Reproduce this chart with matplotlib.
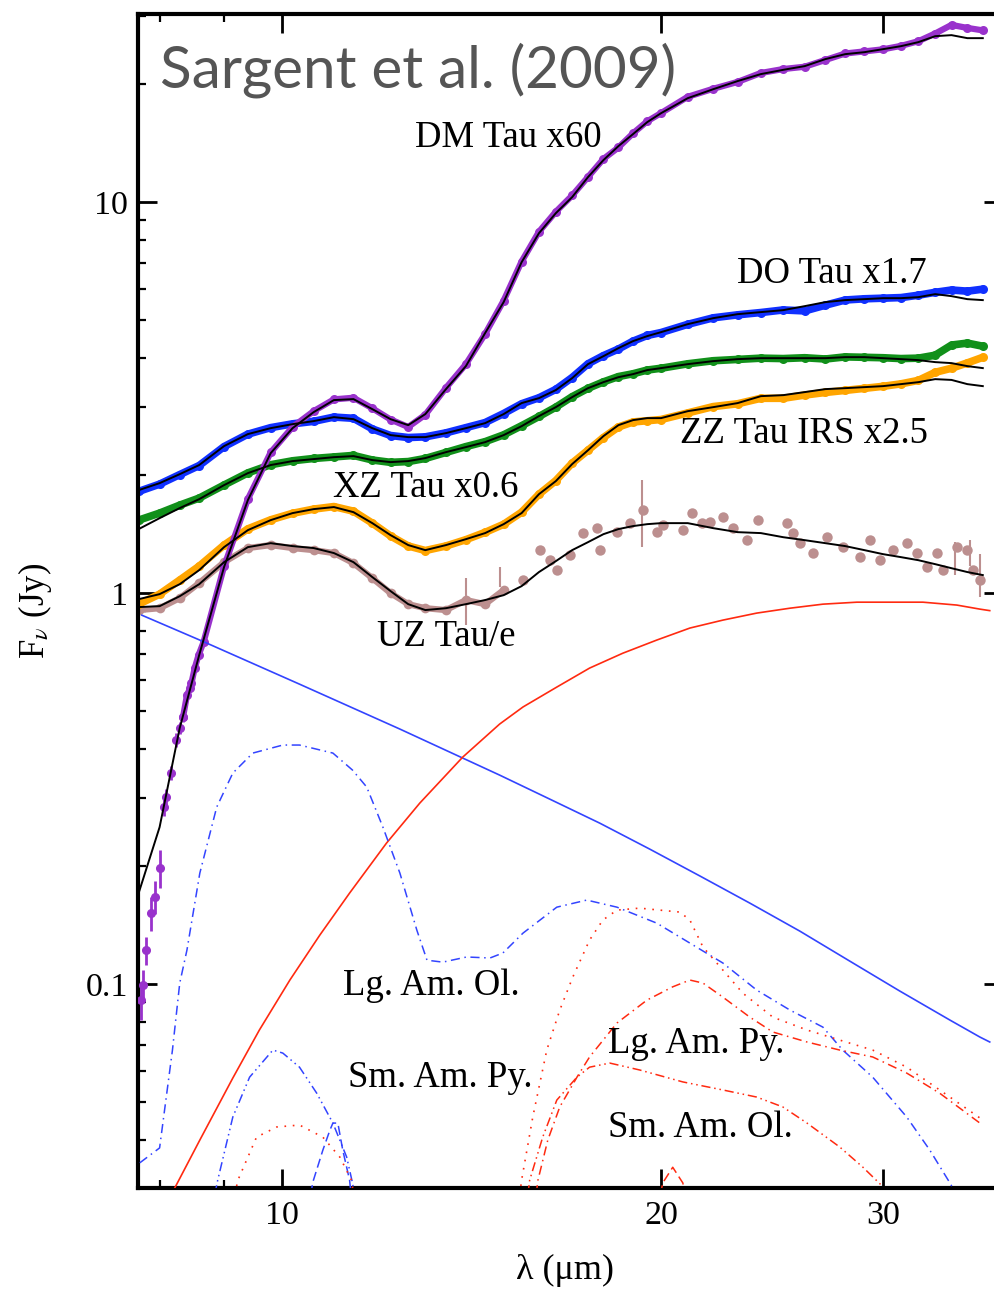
import matplotlib
matplotlib.use("Agg")
import matplotlib.pyplot as plt
from matplotlib.ticker import FixedLocator, FixedFormatter, NullFormatter, LogLocator

# Spitzer IRS spectra (Jy) with model fits and dust components, vs wavelength (micron)
wave_grid = [7.7, 8.0, 8.3, 8.6, 9.0, 9.4, 9.8, 10.2, 10.6, 11.0, 11.4, 11.8, 12.2, 12.6,
             13.0, 13.5, 14.0, 14.5, 15.0, 15.5, 16.0, 16.5, 17.0, 17.5, 18.0, 18.5, 19.0,
             19.5, 20.0, 21, 22, 23, 24, 25, 26, 27, 28, 29, 30, 31, 32, 33, 34, 35, 36]

# DM Tau x60
dm_wave = [7.73, 7.76, 7.81, 7.87, 7.93, 8.00, 8.06, 8.10, 8.17, 8.24, 8.30, 8.35, 8.41,
           8.46, 8.48, 8.53, 8.59, 8.67] + wave_grid[4:]
dm_flux = [0.091, 0.0994, 0.122, 0.152, 0.167, 0.198, 0.284, 0.301, 0.347, 0.421, 0.452,
           0.482, 0.548, 0.572, 0.589, 0.643, 0.694, 0.750,
           1.17, 1.74, 2.29, 2.66, 2.92, 3.13, 3.16, 2.97, 2.78, 2.66, 2.86, 3.35, 3.85,
           4.60, 5.60, 7.05, 8.40, 9.45, 10.4, 11.6, 12.9, 13.8, 15.0, 16.1, 16.9, 18.6,
           19.5, 20.3, 21.4, 21.9, 22.2, 23.1, 24.0, 24.3, 24.6, 25.1, 25.8, 27.0, 28.4,
           27.9, 27.5]
dm_err = [0.010, 0.009, 0.010, 0.015, 0.016, 0.022, 0.015, 0.015, 0.015, 0.018, 0.015, 0.015]
dm_model = [0.171, 0.252, 0.452, 0.694, 1.166, 1.729, 2.28, 2.642, 2.903, 3.117, 3.135,
            2.955, 2.786, 2.689, 2.870, 3.325, 3.807, 4.624, 5.55, 7.02, 8.33, 9.37, 10.30,
            11.59, 12.81, 13.91, 14.93, 16.02, 16.89, 18.45, 19.45, 20.40, 21.26, 21.8,
            22.28, 23.22, 23.91, 24.19, 24.62, 25.06, 25.66, 26.58, 26.74, 26.27, 26.27]

# DO Tau x1.7
do_flux = [1.82, 1.90, 2.01, 2.12, 2.37, 2.55, 2.65, 2.71, 2.75, 2.82, 2.80, 2.63, 2.53,
           2.50, 2.51, 2.57, 2.65, 2.73, 2.88, 3.05, 3.16, 3.32, 3.56, 3.86, 4.05, 4.21,
           4.41, 4.56, 4.64, 4.87, 5.06, 5.15, 5.22, 5.30, 5.27, 5.45, 5.62, 5.66, 5.68,
           5.70, 5.78, 5.88, 5.96, 5.92, 5.99]
do_model = [1.834, 1.911, 2.015, 2.126, 2.377, 2.551, 2.642, 2.705, 2.754, 2.819, 2.786,
            2.642, 2.536, 2.506, 2.506, 2.566, 2.642, 2.721, 2.870, 3.062, 3.153, 3.306,
            3.547, 3.852, 4.037, 4.232, 4.411, 4.543, 4.651, 4.875, 5.050, 5.17, 5.233,
            5.294, 5.42, 5.55, 5.616, 5.648, 5.681, 5.681, 5.715, 5.817, 5.749, 5.648, 5.616]

# XZ Tau x0.6
xz_flux = [1.537, 1.602, 1.679, 1.75, 1.89, 2.03, 2.13, 2.18, 2.21, 2.23, 2.25, 2.19, 2.16,
           2.17, 2.21, 2.29, 2.37, 2.44, 2.54, 2.68, 2.83, 2.99, 3.18, 3.34, 3.47, 3.58,
           3.64, 3.72, 3.76, 3.86, 3.93, 3.96, 3.99, 3.98, 4.00, 3.97, 4.02, 4.01, 4.00,
           3.98, 3.99, 4.06, 4.31, 4.36, 4.28]
xz_model = [1.458, 1.555, 1.650, 1.739, 1.889, 2.027, 2.126, 2.176, 2.202, 2.227, 2.241,
            2.189, 2.163, 2.176, 2.215, 2.294, 2.363, 2.433, 2.536, 2.673, 2.836, 2.990,
            3.172, 3.344, 3.464, 3.567, 3.632, 3.719, 3.763, 3.852, 3.921, 3.967, 3.990,
            3.990, 3.990, 3.990, 4.014, 4.014, 3.990, 3.967, 3.944, 3.898, 3.875, 3.807, 3.763]

# ZZ Tau IRS x2.5
zz_flux = [0.937, 0.994, 1.080, 1.172, 1.327, 1.46, 1.54, 1.60, 1.64, 1.665, 1.62, 1.51,
           1.40, 1.32, 1.285, 1.32, 1.37, 1.43, 1.50, 1.61, 1.79, 1.94, 2.15, 2.32, 2.50,
           2.66, 2.74, 2.76, 2.78, 2.89, 3.00, 3.05, 3.15, 3.15, 3.21, 3.26, 3.30, 3.34,
           3.38, 3.43, 3.50, 3.67, 3.76, 3.88, 4.01]
zz_model = [0.965, 0.994, 1.054, 1.145, 1.311, 1.449, 1.537, 1.602, 1.640, 1.660, 1.611,
            1.510, 1.407, 1.327, 1.288, 1.327, 1.374, 1.424, 1.501, 1.602, 1.791, 1.934,
            2.138, 2.320, 2.521, 2.689, 2.770, 2.803, 2.803, 2.920, 2.990, 3.062, 3.190,
            3.209, 3.267, 3.325, 3.344, 3.364, 3.384, 3.424, 3.464, 3.526, 3.510, 3.424, 3.384]

# UZ Tau/e: dense short-wavelength part, then individual points
uz_wave = wave_grid[:19] + [
    15.54, 16.03, 16.32, 16.53, 16.92, 17.34, 17.78, 17.88, 18.45, 18.89, 19.34, 19.84,
    20.06, 20.81, 21.15, 21.55, 21.87, 22.39, 22.80, 23.39, 23.87, 25.17, 25.45, 25.77,
    26.39, 27.07, 27.87, 28.75, 29.29, 29.83, 30.54, 31.33, 31.92, 32.51, 33.11, 33.47,
    34.33, 34.97, 35.35, 35.81]
uz_flux = [0.905, 0.915, 0.971, 1.061, 1.200, 1.304, 1.327, 1.304, 1.288, 1.266, 1.193,
           1.092, 1.000, 0.937, 0.915, 0.905, 0.960, 0.937, 1.018,
           1.080, 1.288, 1.214, 1.145, 1.251, 1.424, 1.466, 1.288, 1.432, 1.510, 1.630,
           1.432, 1.492, 1.449, 1.602, 1.510, 1.519, 1.565, 1.466, 1.366, 1.537, 1.510,
           1.424, 1.342, 1.266, 1.390, 1.311, 1.236, 1.366, 1.214, 1.288, 1.342, 1.266,
           1.166, 1.266, 1.145, 1.311, 1.288, 1.145, 1.080]
uz_model = [0.921, 0.926, 0.982, 1.054, 1.200, 1.311, 1.342, 1.319, 1.304, 1.266, 1.200,
            1.099, 1.012, 0.937, 0.905, 0.915, 0.937, 0.960, 0.988, 1.042, 1.132, 1.207,
            1.288, 1.350, 1.415, 1.458, 1.484, 1.501, 1.510, 1.510, 1.466, 1.432, 1.424,
            1.390, 1.366, 1.342, 1.319, 1.288, 1.258, 1.236, 1.214, 1.186, 1.158, 1.132, 1.112]
uz_bar_wave = [14.0, 14.9, 19.3, 34.2, 35.2, 35.8]
uz_bar_flux = [0.96, 1.10, 1.63, 1.23, 1.27, 1.12]
uz_bar_err = [0.13, 0.065, 0.32, 0.12, 0.10, 0.14]

# stellar photosphere and disk wall blackbodies
star_wave = [7.745, 8.687, 10.33, 12.41, 14.89, 16.32, 17.88, 19.59, 21.47, 23.52, 25.77,
             28.23, 30.93, 33.90, 35.81, 36.46]
star_flux = [0.878, 0.749, 0.585, 0.449, 0.3424, 0.2972, 0.258, 0.2214, 0.189, 0.1611,
             0.1366, 0.1145, 0.096, 0.0809, 0.0732, 0.0711]
wall_wave = [8.15, 8.225, 8.61, 9.145, 9.60, 10.15, 10.72, 11.32, 12.11, 12.87, 13.92,
             14.89, 15.54, 16.53, 17.55, 18.65, 19.84, 21.08, 22.39, 23.82, 25.31, 26.88,
             28.6, 30.38, 32.27, 34.33, 35.81, 36.46]
wall_flux = [0.028, 0.0301, 0.0399, 0.0575, 0.0763, 0.1024, 0.1334, 0.1709, 0.2294, 0.2904,
             0.3807, 0.4624, 0.5114, 0.575, 0.643, 0.702, 0.7583, 0.814, 0.853, 0.889,
             0.915, 0.937, 0.948, 0.948, 0.948, 0.932, 0.910, 0.902]

# dust components (UZ Tau/e fit)
lg_am_ol_wave = [7.716, 8.0, 8.19, 8.30, 8.41, 8.61, 8.88, 9.145, 9.485, 10.02, 10.33, 10.98,
                 11.38, 11.68, 12.03, 12.41, 12.80, 13.04, 13.42, 14.02, 14.63, 14.98, 15.54,
                 16.53, 17.46, 18.45, 19.84, 21.08, 22.39, 23.82, 25.31, 26.88, 27.87, 29.44,
                 31.33, 32.68, 33.90, 34.3]
lg_am_ol_flux = [0.0349, 0.0381, 0.0678, 0.1006, 0.1222, 0.1922, 0.2836, 0.3465, 0.3898,
                 0.4087, 0.4087, 0.3898, 0.3527, 0.3191, 0.2521, 0.1922, 0.1374, 0.1151,
                 0.1138, 0.1173, 0.1166, 0.1201, 0.135, 0.1573, 0.164, 0.1573, 0.1432, 0.1273,
                 0.1132, 0.0965, 0.0858, 0.0776, 0.0678, 0.0578, 0.0457, 0.0376, 0.031, 0.029]
sm_am_py_wave = [8.85, 8.896, 9.145, 9.43, 9.84, 10.02, 10.33, 10.66, 10.98, 11.26, 11.38, 11.42]
sm_am_py_flux = [0.029, 0.0315, 0.0457, 0.0578, 0.0678, 0.0666, 0.0613, 0.0526, 0.0441,
                 0.0361, 0.031, 0.029]
blue_bump_wave = [10.55, 10.58, 10.78, 10.92, 10.98, 11.08, 11.18, 11.32, 11.35]
blue_bump_flux = [0.029, 0.031, 0.0376, 0.0423, 0.0441, 0.0441, 0.0376, 0.0315, 0.029]
red_dot_small_wave = [9.18, 9.23, 9.55, 9.91, 10.33, 10.78, 11.12, 11.36, 11.4]
red_dot_small_flux = [0.029, 0.0315, 0.0406, 0.0431, 0.0436, 0.0406, 0.0361, 0.0315, 0.029]
red_bump_wave = [19.98, 20.06, 20.43, 20.81, 20.9]
red_bump_flux = [0.029, 0.031, 0.034, 0.031, 0.029]
red_dot_wave = [15.45, 15.5, 15.82, 16.23, 16.62, 17.02, 17.55, 17.98, 18.45, 19.23, 20.70,
                21.08, 21.59, 22.39, 23.22, 24.53, 26.11, 27.72, 29.44, 31.33, 33.27, 35.35, 36.0]
red_dot_flux = [0.029, 0.0315, 0.0457, 0.0678, 0.0858, 0.1042, 0.1296, 0.1458, 0.1546,
                0.1564, 0.1528, 0.1458, 0.1244, 0.1086, 0.0948, 0.0823, 0.0763, 0.0719,
                0.0678, 0.0613, 0.0536, 0.0468, 0.0449]
lg_am_py_wave = [15.92, 15.97, 16.26, 16.62, 17.15, 17.55, 18.45, 19.49, 20.43, 21.08, 21.59,
                 22.39, 23.52, 24.53, 26.11, 27.72, 29.44, 31.33, 33.27, 35.81]
lg_am_py_flux = [0.029, 0.0315, 0.0399, 0.0485, 0.0578, 0.0651, 0.0795, 0.091, 0.0984,
                 0.1024, 0.1006, 0.0926, 0.0823, 0.0754, 0.0711, 0.0678, 0.0651, 0.0592,
                 0.0526, 0.0441]
sm_am_ol_wave = [15.68, 15.73, 16.11, 16.53, 17.15, 17.55, 18.21, 19.23, 20.81, 22.39, 23.82,
                 24.98, 26.11, 27.72, 28.92, 30.0]
sm_am_ol_flux = [0.029, 0.0315, 0.0406, 0.0505, 0.0578, 0.0613, 0.0628, 0.0603, 0.0562,
                 0.0536, 0.0514, 0.0485, 0.0441, 0.0383, 0.034, 0.0303]

labels = [("DM Tau x60", 12.75, 13.8), ("DO Tau x1.7", 22.97, 6.21),
          ("XZ Tau x0.6", 10.98, 1.76), ("ZZ Tau IRS x2.5", 20.70, 2.42),
          ("UZ Tau/e", 11.90, 0.732), ("Lg. Am. Ol.", 11.18, 0.0937),
          ("Sm. Am. Py.", 11.28, 0.0545), ("Lg. Am. Py.", 18.15, 0.0666),
          ("Sm. Am. Ol.", 18.15, 0.0406)]

plt.rcParams['font.family'] = ['Liberation Serif', 'DejaVu Serif']
plt.rcParams['mathtext.fontset'] = 'stix'

BLUE = '#3344ff'
RED = '#ff2a10'
BROWN = '#bc8f8f'

fig = plt.figure(figsize=(9.94, 12.89), dpi=100)
ax = fig.add_axes([0.1388, 0.0784, 0.8702, 0.9108])
ax.set_xscale('log')
ax.set_yscale('log')


def data_band(wave, flux, color, lw=5.5, ms=6.5, z=2):
    ax.plot(wave, flux, color=color, lw=lw, solid_capstyle='round',
            solid_joinstyle='round', zorder=z)
    ax.plot(wave, flux, 'o', color=color, ms=ms, mew=0, zorder=z)


# UZ Tau/e: band below 15 micron, scattered points beyond
data_band(uz_wave[:19], uz_flux[:19], BROWN, lw=4.5, ms=7)
ax.plot(uz_wave[19:], uz_flux[19:], 'o', color=BROWN, ms=7.5, mew=0, zorder=2)
ax.errorbar(uz_bar_wave, uz_bar_flux, yerr=uz_bar_err, fmt='none', ecolor=BROWN,
            elinewidth=1.5, zorder=2)
data_band(wave_grid, zz_flux, '#ffa500')
data_band(wave_grid, xz_flux, '#11901a')
data_band(wave_grid, do_flux, '#1030ff')
data_band(dm_wave[11:], dm_flux[11:], '#9932cc', lw=4.5, ms=6.5, z=2.5)
ax.errorbar(dm_wave[:12], dm_flux[:12], yerr=dm_err, fmt='o', color='#9932cc', ms=5.5,
            elinewidth=2, capsize=0, zorder=2.5)

for model in (dm_model, do_model, xz_model, zz_model, uz_model):
    ax.plot(wave_grid, model, color='black', lw=1.4, zorder=4)

ax.plot(star_wave, star_flux, color=BLUE, lw=1.2, zorder=3)
ax.plot(wall_wave, wall_flux, color=RED, lw=1.2, zorder=3)

dash_dot = (0, (6, 3, 1, 3))
dash_dot_dot = (0, (6, 2.5, 1, 2.5, 1, 2.5))
ax.plot(lg_am_ol_wave, lg_am_ol_flux, color=BLUE, lw=1.1, ls=dash_dot, zorder=3)
ax.plot(sm_am_py_wave, sm_am_py_flux, color=BLUE, lw=1.1, ls=dash_dot_dot, zorder=3)
ax.plot(blue_bump_wave, blue_bump_flux, color=BLUE, lw=1.1, ls=(0, (6, 3)), zorder=3)
ax.plot(red_dot_small_wave, red_dot_small_flux, color=RED, lw=1.2, ls=(0, (1, 4)), zorder=3)
ax.plot(red_bump_wave, red_bump_flux, color=RED, lw=1.1, ls=(0, (6, 3)), zorder=3)
ax.plot(red_dot_wave, red_dot_flux, color=RED, lw=1.2, ls=(0, (1, 4)), zorder=3)
ax.plot(lg_am_py_wave, lg_am_py_flux, color=RED, lw=1.1, ls=dash_dot, zorder=3)
ax.plot(sm_am_ol_wave, sm_am_ol_flux, color=RED, lw=1.1, ls=dash_dot_dot, zorder=3)

for text, x, y in labels:
    ax.text(x, y, text, fontsize=26.5, ha='left', va='baseline', zorder=5)

ax.set_xlim(7.69, 37.35)
ax.set_ylim(0.0301, 30.3)

ax.xaxis.set_major_locator(FixedLocator([10, 20, 30]))
ax.xaxis.set_major_formatter(FixedFormatter(['10', '20', '30']))
ax.xaxis.set_minor_locator(FixedLocator([8, 9]))
ax.xaxis.set_minor_formatter(NullFormatter())
ax.yaxis.set_major_locator(FixedLocator([0.1, 1, 10]))
ax.yaxis.set_major_formatter(FixedFormatter(['0.1', '1', '10']))
ax.yaxis.set_minor_locator(LogLocator(base=10, subs=[2, 3, 4, 5, 6, 7, 8, 9]))
ax.yaxis.set_minor_formatter(NullFormatter())

ax.tick_params(which='both', direction='in', top=True, right=True, labelsize=24.5)
ax.tick_params(which='major', length=14, width=2)
ax.tick_params(which='minor', length=6, width=1.6)
ax.tick_params(axis='y', pad=7)
ax.tick_params(axis='x', pad=9)
for spine in ax.spines.values():
    spine.set_linewidth(3)
# the right frame edge falls just outside the canvas
ax.spines['right'].set_visible(False)

fig.text(35 / 994, 1 - 611 / 1289, r'F$_\nu$ (Jy)', rotation=90, fontsize=25,
         ha='center', va='center')
fig.text(565 / 994, 1 - 1270 / 1289, 'λ (μm)', fontsize=26, ha='center', va='center')
fig.text(160 / 994, 1 - 87 / 1289, 'Sargent et al. (2009)', fontsize=42, color='#555555',
         family=['Lato', 'DejaVu Sans'], ha='left', va='baseline')

fig.savefig('out.png', dpi=100)
